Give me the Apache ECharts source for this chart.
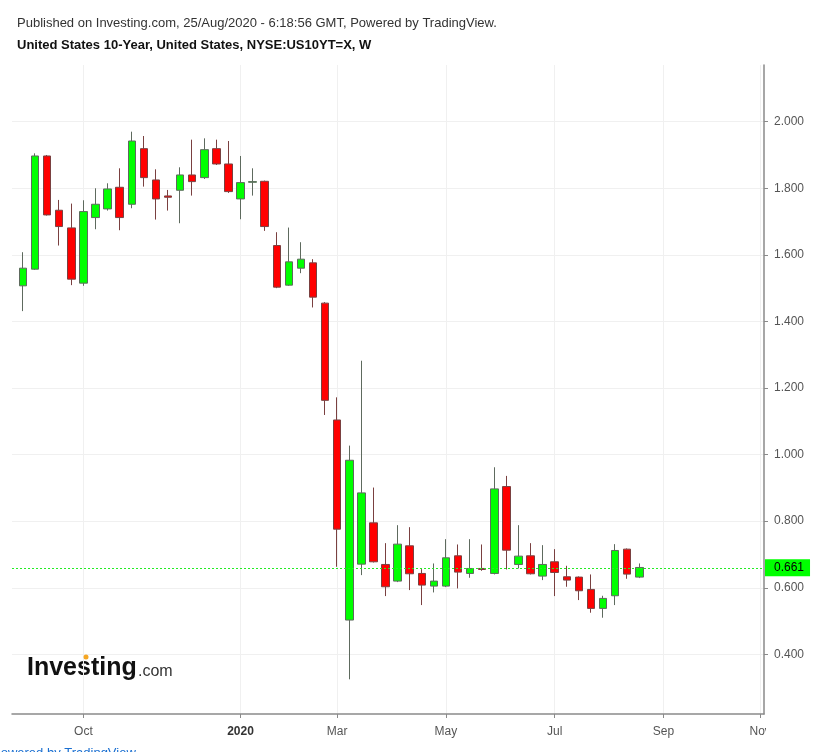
<!DOCTYPE html>
<html>
<head>
<meta charset="utf-8">
<script src="https://cdn.jsdelivr.net/npm/echarts@6/dist/echarts.min.js"></script>
<style>
html,body{margin:0;padding:0;background:#fff;}
#chart{width:821px;height:752px;}
</style>
</head>
<body>
<div id="chart"></div>
<script>
// Weekly bars (week starting Monday)
const weeks = [
  '2019-09-02','2019-09-09','2019-09-16','2019-09-23','2019-09-30','2019-10-07','2019-10-14','2019-10-21','2019-10-28',
  '2019-11-04','2019-11-11','2019-11-18','2019-11-25','2019-12-02','2019-12-09','2019-12-16','2019-12-23','2019-12-30',
  '2020-01-06','2020-01-13','2020-01-20','2020-01-27','2020-02-03','2020-02-10','2020-02-17','2020-02-24','2020-03-02',
  '2020-03-09','2020-03-16','2020-03-23','2020-03-30','2020-04-06','2020-04-13','2020-04-20','2020-04-27','2020-05-04',
  '2020-05-11','2020-05-18','2020-05-25','2020-06-01','2020-06-08','2020-06-15','2020-06-22','2020-06-29','2020-07-06',
  '2020-07-13','2020-07-20','2020-07-27','2020-08-03','2020-08-10','2020-08-17','2020-08-24'
];
const opens  = [1.507,1.557,1.897,1.734,1.681,1.515,1.712,1.738,1.803,1.752,1.919,1.825,1.777,1.794,1.840,1.832,1.919,1.873,
                1.768,1.818,1.821,1.628,1.509,1.560,1.576,1.455,1.104,0.503,0.671,0.795,0.670,0.620,0.726,0.643,0.605,0.605,
                0.696,0.643,0.658,0.643,0.904,0.670,0.696,0.635,0.678,0.633,0.632,0.595,0.538,0.576,0.716,0.632];
const closes = [1.560,1.897,1.720,1.685,1.527,1.730,1.752,1.798,1.712,1.942,1.832,1.768,1.773,1.840,1.820,1.916,1.873,1.790,
                1.817,1.820,1.685,1.503,1.579,1.587,1.473,1.163,0.776,0.983,0.885,0.678,0.603,0.731,0.642,0.608,0.620,0.690,
                0.647,0.658,0.655,0.897,0.713,0.695,0.642,0.670,0.646,0.623,0.591,0.538,0.568,0.712,0.641,0.661];
const lows   = [1.431,1.555,1.718,1.628,1.509,1.507,1.677,1.733,1.674,1.740,1.805,1.706,1.733,1.695,1.778,1.828,1.870,1.786,
                1.707,1.778,1.672,1.500,1.507,1.545,1.442,1.119,0.663,0.325,0.638,0.676,0.575,0.617,0.593,0.548,0.586,0.602,
                0.598,0.630,0.651,0.640,0.655,0.658,0.640,0.623,0.575,0.603,0.563,0.525,0.510,0.548,0.627,0.629];
const highs  = [1.608,1.905,1.900,1.765,1.754,1.764,1.800,1.815,1.860,1.970,1.957,1.857,1.795,1.863,1.946,1.950,1.946,1.942,
                1.897,1.860,1.823,1.668,1.682,1.638,1.587,1.458,1.172,1.027,1.282,0.901,0.734,0.788,0.782,0.656,0.673,0.746,
                0.730,0.746,0.730,0.962,0.936,0.788,0.734,0.728,0.716,0.666,0.634,0.640,0.576,0.731,0.718,0.673];
const lastPrice = 0.661;

// X tick labels at the first weekly bar of each labelled month
const tickLabels = ['Oct','2020','Mar','May','Jul','Sep','Nov'];
const tickWeeks  = ['2019-10-07','2020-01-06','2020-03-02','2020-05-04','2020-07-06','2020-09-07','2020-11-02'];
// Y tick labels
const yTicks = [0.4,0.6,0.8,1.0,1.2,1.4,1.6,1.8,2.0];

const DAY = 86400000;
const t0 = Date.parse(weeks[0] + 'T00:00:00Z');
const weekIndex = d => Math.round((Date.parse(d + 'T00:00:00Z') - t0) / (7 * DAY));
const tickIdx = tickWeeks.map(weekIndex);
const labelByIdx = {};
tickIdx.forEach((v, i) => { labelByIdx[v] = tickLabels[i]; });

const candleData = weeks.map((w, i) => [weekIndex(w), opens[i], closes[i], lows[i], highs[i]]);

const chart = echarts.init(document.getElementById('chart'), null, {renderer: 'canvas'});
const FONT = '"Liberation Sans", Arial, sans-serif';

chart.setOption({
  animation: false,
  backgroundColor: '#ffffff',
  textStyle: {fontFamily: FONT},
  grid: {left: 12, right: 57, top: 65, bottom: 38, containLabel: false},
  xAxis: {
    type: 'value',
    min: -0.91,
    max: 61.32,
    axisLine: {show: true, onZero: false, lineStyle: {color: '#8a8a8a', width: 1.5}},
    axisTick: {show: true, customValues: tickIdx, length: 4, lineStyle: {color: '#8a8a8a'}},
    axisLabel: {
      customValues: tickIdx,
      margin: 12,
      fontSize: 12,
      fontFamily: FONT,
      color: '#555',
      formatter: v => {
        const s = labelByIdx[Math.round(v)] || '';
        return s === '2020' ? '{b|2020}' : s;
      },
      rich: {b: {fontWeight: 'bold', color: '#333', fontSize: 12, fontFamily: FONT}}
    },
    splitLine: {show: true, lineStyle: {color: '#f0f0f0', width: 1}}
  },
  yAxis: {
    type: 'value',
    position: 'right',
    min: 0.2208,
    max: 2.1703,
    scale: true,
    axisLine: {show: true, onZero: false, lineStyle: {color: '#8a8a8a', width: 1.5}},
    axisTick: {show: true, customValues: yTicks, length: 4, lineStyle: {color: '#8a8a8a'}},
    axisLabel: {
      customValues: yTicks,
      margin: 10,
      fontSize: 12,
      fontFamily: FONT,
      color: '#555',
      formatter: v => v.toFixed(3)
    },
    splitLine: {show: true, lineStyle: {color: '#f0f0f0', width: 1}}
  },
  series: [{
    type: 'candlestick',
    data: candleData,
    encode: {x: 0, y: [1, 2, 3, 4]},
    barWidth: 8,
    itemStyle: {
      color: '#00ff00',
      color0: '#ff0000',
      borderColor: '#5e6a5e',
      borderColor0: '#7a4040',
      borderWidth: 1
    },
    markLine: {
      silent: true,
      symbol: 'none',
      animation: false,
      data: [{yAxis: lastPrice}],
      lineStyle: {color: '#22ee22', type: [2, 2], width: 1},
      label: {
        show: true,
        position: 'end',
        distance: 1,
        formatter: lastPrice.toFixed(3),
        backgroundColor: '#00ff00',
        color: '#000',
        fontSize: 12,
        fontFamily: FONT,
        padding: [3, 6, 2, 9]
      }
    }
  }],
  graphic: [
    {type: 'text', left: 17, top: 17, style: {text: 'Published on Investing.com, 25/Aug/2020 - 6:18:56 GMT, Powered by TradingView.', font: '13px ' + FONT, fill: '#333'}},
    {type: 'text', left: 17, top: 39, style: {text: 'United States 10-Year, United States, NYSE:US10YT=X, W', font: 'bold 13px ' + FONT, fill: '#111'}},
    {type: 'text', x: 27, y: 668, style: {text: 'Investing', font: 'bold 25px ' + FONT, fill: '#111', textVerticalAlign: 'middle', textAlign: 'left'}},
    {type: 'text', x: 138, y: 672, style: {text: '.com', font: '16px ' + FONT, fill: '#333', textVerticalAlign: 'middle', textAlign: 'left'}},
    {type: 'circle', shape: {cx: 86, cy: 657, r: 2.5}, style: {fill: '#f5a623'}, z: 10},
    {type: 'rect', shape: {x: 766, y: 720, width: 40, height: 24}, style: {fill: '#fff'}, z: 100},
    {type: 'text', x: -8, y: 747, style: {text: 'Powered by TradingView', font: '13px ' + FONT, fill: '#1a6fd1', textVerticalAlign: 'top'}}
  ]
});
</script>
</body>
</html>
